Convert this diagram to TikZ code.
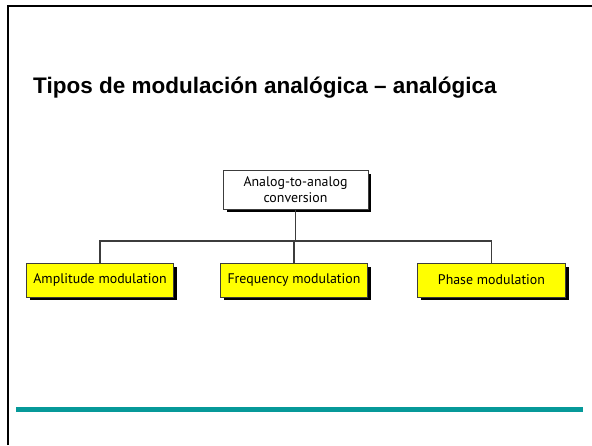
\documentclass[tikz,border=0pt]{standalone}
\usepackage{fontspec}
\setmainfont{Liberation Sans}
\newfontfamily\boxfont{PT Sans}
\definecolor{teal1}{RGB}{6,153,153}
\definecolor{yel}{RGB}{255,255,0}
\definecolor{lin}{RGB}{60,60,60}
\begin{document}
\begin{tikzpicture}[x=1pt,y=-1pt,
  box/.style={draw=lin,line width=1pt,minimum width=146pt,minimum height=34pt,inner sep=0pt,
    font=\boxfont\fontsize{13.9}{15.5}\selectfont,align=center},
  conn/.style={draw=lin,line width=1.1pt}]
\useasboundingbox (0,0) rectangle (592,445);
\fill[white] (0,0) rectangle (592,445);
% frame
\draw[black,line width=2.2pt] (8,445) -- (8,6) -- (592,6);
% title
\node[anchor=base west,inner sep=0pt,font=\bfseries\fontsize{22.5}{25}\selectfont] (title) at (33,93) {Tipos de modulación analógica – analógica};
% shadows
\fill[black] (227,174) rectangle (371,212);
\fill[black] (30,267) rectangle (177,300);
\fill[black] (224,267) rectangle (371,300);
\fill[black] (421,267) rectangle (569,300);
% boxes
\node[box,fill=white,minimum width=145pt,minimum height=39pt] (top) at (295.5,189.5) {Analog-to-analog\\conversion};
\node[box,fill=yel,minimum width=147pt] (am) at (100,280) {Amplitude modulation};
\node[box,fill=yel,minimum width=147pt] (fm) at (294,280) {Frequency modulation};
\node[box,fill=yel,minimum width=148pt] (pm) at (491.5,280) {Phase modulation};
% connectors
\coordinate (h) at (295.5,241);
\draw[conn] (top.south) -- (h);
\draw[conn] (am.north) |- (h) -| (pm.north);
\draw[conn] (fm.north) -- (fm.north |- h);
% teal rule
\fill[teal1] (16,407) rectangle (583,412);
\end{tikzpicture}
\end{document}
